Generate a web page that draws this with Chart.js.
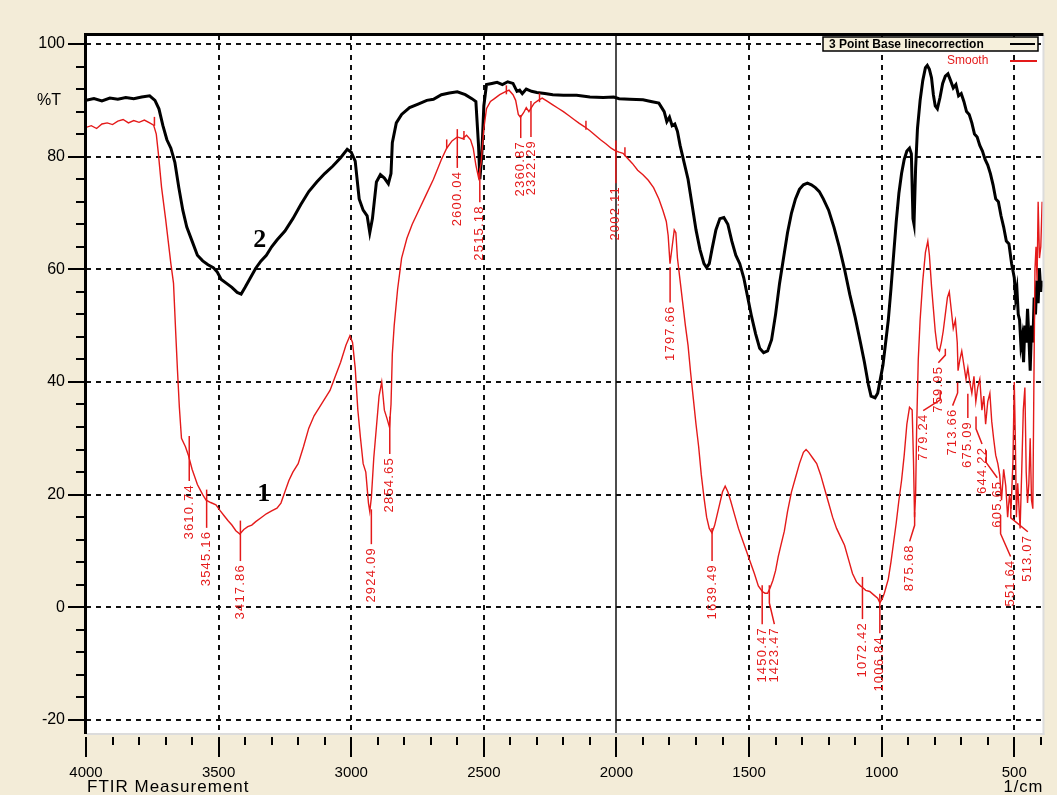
<!DOCTYPE html>
<html><head><meta charset="utf-8">
<script src="https://cdn.jsdelivr.net/npm/chart.js@4.4.1/dist/chart.umd.min.js"></script>
<style>html,body{margin:0;padding:0;background:#f3ecd8;}canvas{display:block;}</style>
</head><body>
<canvas id="c" width="1057" height="795"></canvas>
<script>
// ---- data ----
const seriesNames = ["3 Point Base linecorrection", "Smooth"];
const xTickValues = [4000, 3500, 3000, 2500, 2000, 1500, 1000, 500];
const yTickValues = [-20, 0, 20, 40, 60, 80, 100];

const blackWn = [4000,3970,3940,3910,3880,3850,3820,3790,3760,3740,3725,3710,3695,3680,3665,3650,3635,3620,3600,3580,3560,3540,3520,3505,3490,3470,3450,3430,3415,3400,3380,3360,3340,3320,3300,3280,3250,3220,3190,3160,3130,3100,3070,3040,3015,3000,2985,2970,2955,2940,2930,2920,2905,2890,2875,2860,2850,2845,2830,2810,2780,2750,2715,2690,2660,2630,2600,2570,2545,2530,2520,2515,2508,2500,2490,2470,2450,2430,2410,2390,2375,2365,2355,2340,2320,2300,2270,2240,2200,2150,2100,2050,2010,1990,1950,1900,1870,1840,1820,1810,1800,1790,1780,1770,1760,1745,1730,1715,1700,1685,1670,1660,1650,1640,1625,1610,1595,1580,1565,1550,1535,1520,1505,1490,1475,1460,1445,1430,1415,1400,1385,1370,1355,1340,1325,1310,1295,1280,1265,1250,1235,1220,1200,1180,1160,1140,1120,1100,1080,1065,1050,1040,1025,1015,1005,995,985,975,965,955,945,935,925,915,905,895,888,882,878,872,865,855,845,835,828,820,812,805,798,790,780,770,760,750,740,730,720,710,700,690,680,670,660,650,640,630,620,610,600,590,580,570,560,550,540,530,520,510,500,495,490,485,480,475,470,465,460,455,450,445,440,435,430,425,420,415,410,405,400,395];
const blackT = [90.0,90.3,89.9,90.4,90.2,90.5,90.3,90.6,90.8,90.0,88.5,85.5,83.0,81.5,79.0,74.5,70.5,67.5,65.0,62.5,61.5,60.8,60.3,59.5,58.2,57.5,56.8,55.9,55.6,56.8,58.5,60.2,61.5,62.5,64.0,65.2,66.8,69.0,71.5,73.8,75.5,77.0,78.3,79.8,81.3,80.8,79.2,72.5,70.5,69.5,66.5,69.0,75.5,76.8,76.2,75.2,77.0,82.5,86.0,87.5,88.7,89.3,90.0,90.2,91.0,91.3,91.5,91.0,90.3,89.8,82.0,76.0,80.0,89.0,92.8,93.0,93.2,92.8,93.3,93.0,91.6,91.8,91.2,92.0,91.6,91.4,91.2,91.0,90.9,90.9,90.6,90.5,90.6,90.3,90.2,90.1,89.8,89.5,88.0,86.2,87.0,85.5,85.8,84.5,82.0,79.0,76.0,71.5,67.0,63.5,61.0,60.3,61.0,63.5,67.0,69.0,69.2,68.0,65.0,62.5,61.0,58.5,55.0,51.5,48.5,46.0,45.2,45.5,47.5,52.0,57.5,62.0,66.5,70.0,72.5,74.2,75.0,75.3,75.0,74.5,73.8,72.5,70.5,67.5,64.0,60.0,55.5,51.5,47.0,43.5,39.5,37.5,37.2,38.0,40.5,43.0,47.0,51.0,56.5,62.5,68.5,73.5,77.0,79.5,81.0,81.5,80.5,69.0,68.0,78.0,85.0,90.0,93.5,95.8,96.2,95.5,94.0,91.0,89.0,88.5,90.5,93.0,94.3,94.7,93.5,92.2,92.8,90.8,91.2,89.8,88.0,87.5,86.0,84.0,83.5,82.0,81.0,79.5,78.5,77.0,75.0,72.5,72.0,69.5,67.5,65.0,64.5,61.0,58.5,55.0,56.5,52.0,51.0,46.5,48.0,43.5,50.0,47.0,53.0,48.0,42.0,50.0,47.0,55.0,52.0,58.0,54.0,60.0,56.0,58.0];

const redWn = [4000,3980,3960,3940,3920,3900,3880,3860,3840,3820,3800,3780,3760,3745,3735,3727,3715,3700,3690,3680,3670,3662,3655,3648,3640,3625,3614,3600,3580,3560,3547,3530,3510,3495,3480,3465,3450,3435,3420,3405,3390,3375,3360,3340,3320,3300,3280,3265,3250,3235,3220,3200,3180,3160,3140,3120,3100,3080,3060,3040,3020,3005,2995,2985,2975,2965,2955,2945,2935,2930,2924,2915,2905,2895,2885,2875,2865,2856,2850,2845,2838,2825,2810,2790,2770,2750,2720,2690,2660,2640,2620,2600,2580,2565,2550,2540,2530,2520,2510,2500,2490,2475,2460,2440,2420,2405,2390,2380,2370,2362,2350,2340,2330,2322,2310,2295,2280,2260,2240,2220,2200,2180,2160,2140,2120,2100,2080,2060,2040,2020,2002,1990,1975,1960,1940,1920,1900,1880,1860,1840,1825,1812,1805,1798,1790,1782,1776,1770,1760,1750,1740,1730,1720,1710,1700,1690,1680,1670,1660,1650,1640,1630,1620,1610,1600,1590,1580,1570,1555,1540,1525,1510,1495,1480,1465,1450,1440,1430,1420,1410,1400,1390,1380,1367,1355,1340,1325,1310,1295,1285,1275,1260,1245,1230,1215,1200,1185,1170,1155,1140,1125,1110,1095,1080,1072,1060,1045,1030,1015,1007,998,990,975,965,955,945,935,925,915,905,895,885,880,876,872,868,862,855,845,835,826,820,812,805,798,790,782,775,768,760,752,745,738,730,722,715,712,705,698,690,682,675,668,660,652,645,638,630,622,615,608,600,592,585,578,570,562,555,548,540,532,525,518,512,505,500,496,492,487,482,478,472,466,460,455,450,445,440,435,430,426,422,418,414,410,405,400,395];
const redT = [85.2,85.5,85.0,85.8,86.0,85.7,86.3,86.6,86.0,86.4,86.1,86.5,86.0,85.6,84.0,80.5,74.5,69.0,65.0,61.0,57.5,49.0,42.0,35.5,30.0,28.5,27.0,24.5,21.8,20.0,19.0,18.6,18.2,17.2,16.3,15.4,14.6,13.6,13.0,13.8,14.3,14.6,15.2,15.9,16.6,17.1,17.6,18.5,20.5,22.5,24.0,25.5,28.5,31.8,34.0,35.5,37.0,38.5,41.0,43.5,46.5,48.2,47.0,42.5,35.0,30.0,25.5,24.0,18.5,17.0,19.5,26.5,32.0,37.5,40.0,35.0,33.5,32.0,36.0,45.0,50.0,56.5,62.0,65.5,68.0,70.0,73.0,76.0,79.5,81.5,82.8,83.5,83.2,83.8,83.0,81.5,78.5,76.3,79.0,85.0,88.5,89.8,90.3,91.0,91.5,91.8,91.0,90.0,87.5,87.0,87.8,88.7,88.0,88.6,89.5,90.0,90.4,89.8,89.2,88.6,88.0,87.3,86.6,85.9,85.3,84.6,83.8,83.0,82.3,81.5,81.0,80.8,80.6,79.8,78.8,77.6,76.8,75.8,74.5,72.5,70.5,68.5,66.0,61.0,64.0,67.0,66.5,62.0,58.0,54.0,50.0,46.5,41.5,37.0,32.5,28.5,23.5,19.5,16.0,14.0,13.2,14.5,16.5,18.5,20.5,21.5,20.5,19.0,16.5,14.0,12.0,10.0,8.0,6.0,3.8,2.8,2.5,2.5,3.5,4.8,6.5,9.0,11.0,13.5,17.0,20.5,23.0,25.5,27.5,28.0,27.5,26.5,25.5,23.5,21.0,18.5,16.0,14.0,12.5,11.0,8.5,6.0,4.5,3.8,3.5,3.0,2.8,2.2,1.6,0.8,1.5,2.5,5.0,8.0,11.5,15.0,19.0,22.5,27.0,32.5,35.5,35.0,26.0,16.0,20.0,32.0,44.0,51.0,58.0,63.0,65.0,62.5,57.0,53.0,49.0,46.0,45.5,47.0,49.0,52.0,55.0,56.0,53.0,49.5,51.0,47.0,42.0,44.0,45.5,43.0,40.5,42.5,40.0,38.0,41.0,36.5,39.0,40.5,35.0,37.5,32.5,36.5,38.0,33.0,30.0,27.0,25.5,23.5,19.0,24.5,21.5,16.0,20.0,17.5,26.0,40.0,30.0,16.0,22.0,17.5,14.0,24.0,35.0,39.0,24.0,18.5,22.0,30.0,19.0,17.5,40.0,60.0,64.0,58.0,72.0,62.0,64.0,72.0];

const peakWn = [3610.74,3545.16,3417.86,2924.09,2854.65,2600.04,2515.18,2360.87,2322.29,2002.11,1797.66,1639.49,1450.47,1423.47,1072.42,1006.84,875.68,779.24,759.95,713.66,675.09,644.22,605.65,551.64,513.07];
const peakLabels = ["3610.74","3545.16","3417.86","2924.09","2854.65","2600.04","2515.18","2360.87","2322.29","2002.11","1797.66","1639.49","1450.47","1423.47","1072.42","1006.84","875.68","779.24","759.95","713.66","675.09","644.22","605.65","551.64","513.07"];
const peakTop = [29.5,20.0,14.5,16.5,33.0,84.0,77.0,86.5,89.0,82.0,59.5,13.2,3.0,3.0,4.5,1.5,16.0,37.5,45.0,39.0,37.0,33.0,27.0,15.5,17.0];
const peakBottom = [22.4,14.1,8.2,11.2,27.2,78.0,71.9,83.3,83.5,75.3,54.1,8.2,-3.0,-3.0,-2.1,-4.6,11.7,34.9,43.4,35.8,33.6,29.0,23.0,9.0,13.4];
const markWn = [3742,2640,2575,2415,2290,2115,1968];
const markT = [86.0,82.0,83.5,91.6,90.2,85.3,80.6];
const curveTags = ["1","2"];
const curveTagWn = [3330,3345];
const curveTagT = [20.1,65.1];

// ---- plugin (styling / annotations) ----
const labelShift = {"1423.47":5,"875.68":-5,"779.24":-17,"759.95":-7,"713.66":-5,"644.22":6,"605.65":11,"551.64":10,"513.07":17};
const BG = '#f3ecd8';
const decor = {
  id: 'decor',
  beforeDraw(chart) {
    const {ctx, chartArea: a} = chart;
    ctx.save();
    ctx.fillStyle = BG; ctx.fillRect(0, 0, chart.width, chart.height);
    ctx.fillStyle = '#ffffff'; ctx.fillRect(a.left, a.top, a.right - a.left, a.bottom - a.top);
    ctx.restore();
  },
  beforeDatasetsDraw(chart) {
    const {ctx, chartArea: a, scales: {x, y}} = chart;
    ctx.save();
    ctx.strokeStyle = '#111'; ctx.lineWidth = 2; ctx.setLineDash([5, 5]);
    yTickValues.forEach(v => {
      const py = Math.round(y.getPixelForValue(v));
      ctx.beginPath(); ctx.moveTo(a.left, py); ctx.lineTo(a.right, py); ctx.stroke();
    });
    xTickValues.forEach(v => {
      if (v === 4000 || v === 2000) return;
      const px = Math.round(x.getPixelForValue(v));
      ctx.beginPath(); ctx.moveTo(px, a.top); ctx.lineTo(px, a.bottom); ctx.stroke();
    });
    ctx.setLineDash([]); ctx.lineWidth = 1.5;
    const p2 = Math.round(x.getPixelForValue(2000));
    ctx.beginPath(); ctx.moveTo(p2, a.top); ctx.lineTo(p2, a.bottom); ctx.stroke();
    ctx.restore();
  },
  afterDatasetsDraw(chart) {
    const {ctx, chartArea: a, scales: {x, y}} = chart;
    ctx.save();
    const red = '#e41a1a';
    ctx.strokeStyle = red; ctx.fillStyle = red; ctx.lineWidth = 1.5;
    markWn.forEach((w, i) => {
      const px = x.getPixelForValue(w), py = y.getPixelForValue(markT[i]);
      ctx.beginPath(); ctx.moveTo(px, py - 6); ctx.lineTo(px, py + 3); ctx.stroke();
    });
    ctx.font = '13px "Liberation Sans", Arial, sans-serif';
    try { ctx.letterSpacing = '1.2px'; } catch (e) {}
    peakWn.forEach((w, i) => {
      const px = x.getPixelForValue(w);
      const sh = labelShift[peakLabels[i]] || 0;
      const pt = y.getPixelForValue(peakTop[i]) - 5;
      const pb = y.getPixelForValue(peakBottom[i]);
      ctx.beginPath(); ctx.moveTo(px, pt);
      if (sh) { const mid = pt + (pb - pt) * 0.45; ctx.lineTo(px, mid); }
      ctx.lineTo(px + sh, pb); ctx.stroke();
      ctx.save();
      ctx.translate(px + sh, pb + 3);
      ctx.rotate(-Math.PI / 2);
      ctx.textAlign = 'right'; ctx.textBaseline = 'middle';
      ctx.fillText(peakLabels[i], 0, 0);
      ctx.restore();
    });
    try { ctx.letterSpacing = '0px'; } catch (e) {}
    ctx.fillStyle = '#000';
    ctx.font = 'bold 26px "Liberation Serif", "DejaVu Serif", serif';
    ctx.textAlign = 'center'; ctx.textBaseline = 'middle';
    curveTags.forEach((t, i) => ctx.fillText(t, x.getPixelForValue(curveTagWn[i]), y.getPixelForValue(curveTagT[i])));
    // borders
    ctx.fillStyle = '#dcdcdc';
    ctx.fillRect(a.right - 1, a.top, 2, a.bottom - a.top + 1);
    ctx.fillRect(a.left, a.bottom - 1, a.right - a.left + 1, 2);
    ctx.fillStyle = '#000';
    ctx.fillRect(a.left - 2, a.top - 2, 3, a.bottom - a.top + 2);
    ctx.fillRect(a.left - 2, a.top - 2, a.right - a.left + 2, 3);
    // y tick marks
    ctx.strokeStyle = '#000'; ctx.lineWidth = 2;
    for (let v = -20; v <= 100; v += 4) {
      const py = Math.round(y.getPixelForValue(v));
      const len = (v % 20 === 0) ? 16 : 8;
      ctx.beginPath(); ctx.moveTo(a.left - 2 - len, py); ctx.lineTo(a.left - 2, py); ctx.stroke();
    }
    // x tick marks
    for (let v = 4000; v >= 400; v -= 100) {
      const px = Math.round(x.getPixelForValue(v));
      const len = (v % 500 === 0) ? 20 : 8;
      ctx.beginPath(); ctx.moveTo(px, a.bottom + 3); ctx.lineTo(px, a.bottom + 3 + len); ctx.stroke();
    }
    // axis titles
    ctx.fillStyle = '#000';
    ctx.font = '16px "Liberation Sans", Arial, sans-serif';
    ctx.textAlign = 'left'; ctx.textBaseline = 'middle';
    ctx.fillText('%T', 37, 101);
    ctx.font = '17px "Liberation Sans", Arial, sans-serif';
    try { ctx.letterSpacing = '1px'; } catch (e) {}
    ctx.fillText('FTIR Measurement', a.left + 1, 787, 168);
    ctx.textAlign = 'right';
    ctx.fillText('1/cm', a.right, 787, 40);
    try { ctx.letterSpacing = '0px'; } catch (e) {}
    // legend
    ctx.fillStyle = '#f6f0dc';
    ctx.fillRect(823, 37, 215, 14);
    ctx.strokeStyle = '#000'; ctx.lineWidth = 1.5;
    ctx.strokeRect(823, 37, 215, 14);
    ctx.fillStyle = '#000';
    ctx.font = 'bold 12px "Liberation Sans", Arial, sans-serif';
    ctx.textAlign = 'left'; ctx.textBaseline = 'middle';
    ctx.fillText(seriesNames[0], 829, 44.5, 164);
    ctx.lineWidth = 2;
    ctx.beginPath(); ctx.moveTo(1010, 44); ctx.lineTo(1035, 44); ctx.stroke();
    ctx.fillStyle = red; ctx.strokeStyle = red;
    ctx.font = '12px "Liberation Sans", Arial, sans-serif';
    ctx.fillText(seriesNames[1], 947, 61, 46);
    ctx.beginPath(); ctx.moveTo(1010, 61); ctx.lineTo(1037, 61); ctx.stroke();
    ctx.restore();
  }
};

const toPts = (xs, ys) => xs.map((v, i) => ({x: v, y: ys[i]}));

new Chart(document.getElementById('c'), {
  type: 'line',
  data: {
    datasets: [
      {label: seriesNames[1], data: toPts(redWn, redT), borderColor: '#e41a1a', borderWidth: 1.4, pointRadius: 0, tension: 0, fill: false},
      {label: seriesNames[0], data: toPts(blackWn, blackT), borderColor: '#000000', borderWidth: 3, pointRadius: 0, tension: 0, fill: false}
    ]
  },
  options: {
    responsive: false,
    animation: false,
    devicePixelRatio: 1,
    layout: {padding: {top: 35, right: 7, left: 0, bottom: 0}},
    plugins: {legend: {display: false}, tooltip: {enabled: false}},
    scales: {
      x: {
        type: 'linear', reverse: true, min: 390, max: 4000,
        afterBuildTicks: s => { s.ticks = xTickValues.map(v => ({value: v})); },
        afterFit: s => { s.height = 61; },
        grid: {display: false, drawTicks: false},
        border: {display: false},
        ticks: {color: '#000', padding: 30, maxRotation: 0, autoSkip: false,
          callback: v => String(v),
          font: {family: '"Liberation Sans", Arial, sans-serif', size: 15}}
      },
      y: {
        type: 'linear', min: -22.5, max: 101.6,
        afterBuildTicks: s => { s.ticks = yTickValues.map(v => ({value: v})); },
        afterFit: s => { s.width = 86; },
        grid: {display: false, drawTicks: false},
        border: {display: false},
        ticks: {color: '#000', padding: 21, autoSkip: false,
          callback: v => String(v),
          font: {family: '"Liberation Sans", Arial, sans-serif', size: 16}}
      }
    }
  },
  plugins: [decor]
});
</script>
</body></html>
